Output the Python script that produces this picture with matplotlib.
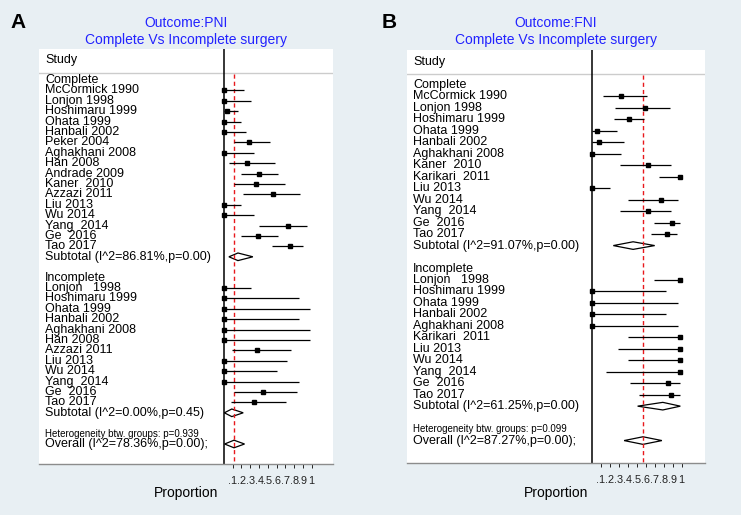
import matplotlib
matplotlib.use('Agg')
import matplotlib.pyplot as plt
from matplotlib.patches import Polygon

plt.rcParams['font.family'] = ['Liberation Sans', 'DejaVu Sans']

# ---------------- Panel A: Outcome PNI ----------------
a_comp_names = ["McCormick 1990", "Lonjon 1998", "Hoshimaru 1999", "Ohata 1999",
                "Hanbali 2002", "Peker 2004", "Aghakhani 2008", "Han 2008",
                "Andrade 2009", "Kaner  2010", "Azzazi 2011", "Liu 2013",
                "Wu 2014", "Yang  2014", "Ge  2016", "Tao 2017"]
a_comp_est = [0, 0, 0.04, 0, 0, 0.29, 0, 0.26, 0.40, 0.37, 0.56, 0, 0, 0.73, 0.39, 0.75]
a_comp_lo = [0, 0, 0, 0, 0, 0.12, 0, 0.06, 0.20, 0.12, 0.22, 0, 0, 0.40, 0.19, 0.55]
a_comp_hi = [0.23, 0.31, 0.16, 0.20, 0.25, 0.53, 0.34, 0.58, 0.62, 0.70, 0.87, 0.20,
             0.34, 0.95, 0.62, 0.90]
a_comp_sub = (0.057, 0.16, 0.33)
a_comp_sub_label = "Subtotal (I^2=86.81%,p=0.00)"

a_inc_names = ["Lonjon   1998", "Hoshimaru 1999", "Ohata 1999", "Hanbali 2002",
               "Aghakhani 2008", "Han 2008", "Azzazi 2011", "Liu 2013", "Wu 2014",
               "Yang  2014", "Ge  2016", "Tao 2017"]
a_inc_est = [0, 0, 0, 0, 0, 0, 0.38, 0, 0, 0, 0.44, 0.34]
a_inc_lo = [0, 0, 0, 0, 0, 0, 0.095, 0, 0, 0, 0.11, 0.08]
a_inc_hi = [0.31, 0.85, 0.98, 0.85, 0.98, 0.98, 0.76, 0.72, 0.61, 0.85, 0.83, 0.71]
a_inc_sub = (0.005, 0.09, 0.22)
a_inc_sub_label = "Subtotal (I^2=0.00%,p=0.45)"
a_overall = (0.008, 0.115, 0.235)
a_overall_label = "Overall (I^2=78.36%,p=0.00);"
a_het_label = "Heterogeneity btw. groups: p=0.939"
a_title = "Outcome:PNI"

# ---------------- Panel B: Outcome FNI ----------------
b_comp_names = ["McCormick 1990", "Lonjon 1998", "Hoshimaru 1999", "Ohata 1999",
                "Hanbali 2002", "Aghakhani 2008", "Kaner  2010", "Karikari  2011",
                "Liu 2013", "Wu 2014", "Yang  2014", "Ge  2016", "Tao 2017"]
b_comp_est = [0.33, 0.59, 0.41, 0.06, 0.077, 0, 0.63, 0.985, 0, 0.77, 0.63, 0.89, 0.84]
b_comp_lo = [0.12, 0.26, 0.25, 0, 0, 0, 0.31, 0.75, 0, 0.40, 0.31, 0.69, 0.66]
b_comp_hi = [0.61, 0.87, 0.58, 0.28, 0.36, 0.33, 0.88, 0.985, 0.20, 0.96, 0.88, 0.98, 0.945]
b_comp_sub = (0.24, 0.46, 0.70)
b_comp_sub_label = "Subtotal (I^2=91.07%,p=0.00)"

b_inc_names = ["Lonjon   1998", "Hoshimaru 1999", "Ohata 1999", "Hanbali 2002",
               "Aghakhani 2008", "Karikari  2011", "Liu 2013", "Wu 2014",
               "Yang  2014", "Ge  2016", "Tao 2017"]
b_inc_est = [0.985, 0, 0, 0, 0, 0.985, 0.985, 0.985, 0.985, 0.85, 0.88]
b_inc_lo = [0.69, 0, 0, 0, 0, 0.40, 0.29, 0.40, 0.16, 0.42, 0.52]
b_inc_hi = [0.985, 0.83, 0.96, 0.83, 0.96, 0.985, 0.985, 0.985, 0.985, 0.98, 0.98]
b_inc_sub = (0.51, 0.79, 0.985)
b_inc_sub_label = "Subtotal (I^2=61.25%,p=0.00)"
b_overall = (0.36, 0.57, 0.78)
b_overall_label = "Overall (I^2=87.27%,p=0.00);"
b_het_label = "Heterogeneity btw. groups: p=0.099"
b_title = "Outcome:FNI"

subtitle = "Complete Vs Incomplete surgery"
tick_vals = [0.1, 0.2, 0.3, 0.4, 0.5, 0.6, 0.7, 0.8, 0.9, 1.0]
tick_labels = [".1", ".2", ".3", ".4", ".5", ".6", ".7", ".8", ".9", "1"]

BG = '#e8eff3'
W, H = 741, 515
fig = plt.figure(figsize=(W / 100, H / 100), dpi=100)
fig.patch.set_facecolor(BG)


def draw_panel(letter, title, comp, comp_sub, comp_sub_label, inc, inc_sub,
               inc_sub_label, overall, overall_label, het_label,
               box, x0px, unit, row0, rowh, letter_x):
    left, right, top, bottom = box
    ax = fig.add_axes([left / W, 1 - bottom / H, (right - left) / W, (bottom - top) / H])
    ax.set_facecolor('white')
    ax.set_xlim((left - x0px) / unit, (right - x0px) / unit)
    ax.set_ylim((bottom - row0) / rowh, (top - row0) / rowh)
    for s in ['top', 'left', 'right']:
        ax.spines[s].set_visible(False)
    ax.spines['bottom'].set_color('#8c8c8c')
    ax.spines['bottom'].set_linewidth(1.0)
    ax.set_yticks([])
    ax.set_xticks(tick_vals)
    ax.set_xticklabels(tick_labels)
    ax.tick_params(axis='x', direction='out', length=3, width=0.7, colors='#222222',
                   labelsize=7.8, pad=5.5)

    label_x = (left + 6 - x0px) / unit
    sep_row = (top + 23.5 - row0) / rowh
    study_row = (top + 11.5 - row0) / rowh
    ax.axhline(sep_row, color='#cccccc', lw=1.0)
    ax.text(label_x, study_row, "Study", fontsize=9, va='center', ha='left')

    ax.axvline(0, color='black', lw=1.1)
    ymax = ax.get_ylim()[0]
    ax.vlines(overall[1], sep_row + 0.15, ymax, colors='#e8181c', lw=1.0,
              linestyles=(0, (3, 2.2)))

    dh = 3.8 / rowh

    def diamond(vals, y):
        lo, est, hi = vals
        ax.add_patch(Polygon([(lo, y), (est, y - dh), (hi, y), (est, y + dh)],
                             closed=True, fill=False, edgecolor='black', lw=0.9))

    def group(header, names, est, lo, hi, sub, sub_label, start):
        ax.text(label_x, start, header, fontsize=9, va='center', ha='left')
        for k, (n, e, l, h) in enumerate(zip(names, est, lo, hi)):
            y = start + 1 + k
            ax.text(label_x, y, n, fontsize=9, va='center', ha='left')
            ax.hlines(y, l, h, colors='black', lw=0.9)
            ax.plot([e], [y], 's', ms=3.3, color='black', mec='black')
        ys = start + 1 + len(names)
        ax.text(label_x, ys, sub_label, fontsize=9, va='center', ha='left')
        diamond(sub, ys)
        return ys

    ys1 = group("Complete", comp[0], comp[1], comp[2], comp[3], comp_sub,
                comp_sub_label, 0)
    ys2 = group("Incomplete", inc[0], inc[1], inc[2], inc[3], inc_sub,
                inc_sub_label, ys1 + 2)
    ax.text(label_x, ys2 + 2, het_label, fontsize=7, va='center', ha='left')
    ax.text(label_x, ys2 + 3, overall_label, fontsize=9, va='center', ha='left')
    diamond(overall, ys2 + 3)

    cx = (left + right) / 2
    fig.text(cx / W, 1 - 22.7 / H, title, color='#2222ff', fontsize=10,
             ha='center', va='center')
    fig.text(cx / W, 1 - 40.3 / H, subtitle, color='#2222ff', fontsize=10,
             ha='center', va='center')
    fig.text(cx / W, 1 - 493 / H, "Proportion", fontsize=10, ha='center', va='center')
    fig.text(letter_x / W, 1 - 22.5 / H, letter, fontsize=15, fontweight='bold',
             ha='center', va='center')


draw_panel("A", a_title,
           (a_comp_names, a_comp_est, a_comp_lo, a_comp_hi), a_comp_sub, a_comp_sub_label,
           (a_inc_names, a_inc_est, a_inc_lo, a_inc_hi), a_inc_sub, a_inc_sub_label,
           a_overall, a_overall_label, a_het_label,
           box=(39, 333, 49, 464), x0px=223.9, unit=87.8, row0=80, rowh=10.4,
           letter_x=18)

draw_panel("B", b_title,
           (b_comp_names, b_comp_est, b_comp_lo, b_comp_hi), b_comp_sub, b_comp_sub_label,
           (b_inc_names, b_inc_est, b_inc_lo, b_inc_hi), b_inc_sub, b_inc_sub_label,
           b_overall, b_overall_label, b_het_label,
           box=(407, 705, 50, 462.7), x0px=591.7, unit=90.0, row0=85, rowh=11.47,
           letter_x=389.5)

fig.savefig('out.png', dpi=100, facecolor=BG)
